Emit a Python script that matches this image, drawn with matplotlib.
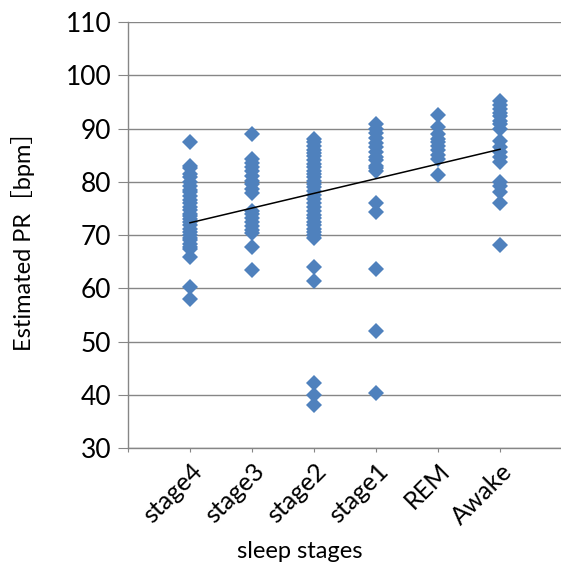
import matplotlib
matplotlib.use('Agg')
import matplotlib.pyplot as plt

stages = ['stage4', 'stage3', 'stage2', 'stage1', 'REM', 'Awake']

# estimated pulse rate per sleep stage
stage4 = [87.5, 83.0, 82.5, 81.5, 80.8, 80.0, 79.2, 78.5, 78.0, 77.3, 76.5, 76.0,
          75.3, 74.7, 74.0, 73.5, 73.0, 72.4, 71.8, 71.2, 70.6, 70.0, 69.5, 69.0,
          68.4, 67.8, 67.3, 65.8, 60.2, 58.0]
stage3 = [88.9, 84.3, 83.5, 82.8, 82.0, 81.0, 80.2, 79.5, 78.6, 77.9, 74.6, 74.0,
          73.2, 72.5, 71.6, 71.0, 70.3, 67.8, 63.5]
stage2 = [88.0, 87.4, 86.8, 86.0, 85.4, 84.8, 84.0, 83.4, 82.8, 82.0, 81.4, 80.8,
          80.2, 79.6, 79.0, 78.2, 77.5, 76.8, 76.0, 75.2, 74.5, 73.8, 73.2, 72.5,
          71.8, 71.2, 70.6, 70.0, 69.4, 64.0, 61.3, 42.3, 40.0, 38.0]
stage1 = [90.8, 90.0, 89.2, 88.2, 87.2, 86.5, 85.5, 84.6, 84.0, 83.0, 82.5, 82.0,
          76.1, 74.3, 63.7, 52.0, 40.3]
rem = [92.6, 90.2, 89.0, 88.0, 87.4, 86.8, 86.0, 85.0, 84.2, 81.2]
awake = [95.2, 94.5, 93.7, 93.0, 92.3, 91.5, 90.8, 90.0, 87.6, 86.5, 85.5, 84.7,
         83.8, 80.0, 79.2, 78.0, 76.1, 68.1]
groups = [stage4, stage3, stage2, stage1, rem, awake]

# linear trend line (slope, intercept) as shown in the chart
trend_slope = 2.76
trend_intercept = 69.54

plt.rcParams['font.family'] = ['Lato', 'Noto Sans CJK JP', 'DejaVu Sans']

fig = plt.figure(figsize=(5.61, 5.70), dpi=100)
ax = fig.add_axes([0.2282, 0.2140, 0.7736, 0.7474])

grid_col = '#868686'
for i, vals in enumerate(groups):
    ax.plot([i + 1] * len(vals), vals, linestyle='none', marker='D',
            markersize=8.5, color='#4F81BD', markeredgewidth=0, zorder=3)

tx = [1, len(stages)]
ax.plot(tx, [trend_intercept + trend_slope * x for x in tx], color='black',
        linewidth=1.1, zorder=4)

ax.set_xlim(0, 7)
ax.set_ylim(30, 110)
ax.set_yticks(range(30, 111, 10))
ax.set_xticks(range(0, 7))
ax.set_xticklabels([''] + stages, rotation=45, ha='right', rotation_mode='anchor')
ax.tick_params(axis='y', labelsize=19, length=7, color=grid_col, pad=5)
ax.tick_params(axis='x', labelsize=18, length=3, color=grid_col, pad=5)
ax.grid(axis='y', color=grid_col, linewidth=1)
ax.set_axisbelow(True)
for s in ['top', 'right']:
    ax.spines[s].set_visible(False)
for s in ['left', 'bottom']:
    ax.spines[s].set_color(grid_col)
    ax.spines[s].set_linewidth(1)

ax.set_xlabel('sleep stages', fontsize=17)
ax.xaxis.set_label_coords(0.396, -0.218)
ax.set_ylabel('Estimated PR［bpm］', fontsize=17)
ax.yaxis.set_label_coords(-0.215, 0.5)

fig.savefig('out.png', dpi=100)
